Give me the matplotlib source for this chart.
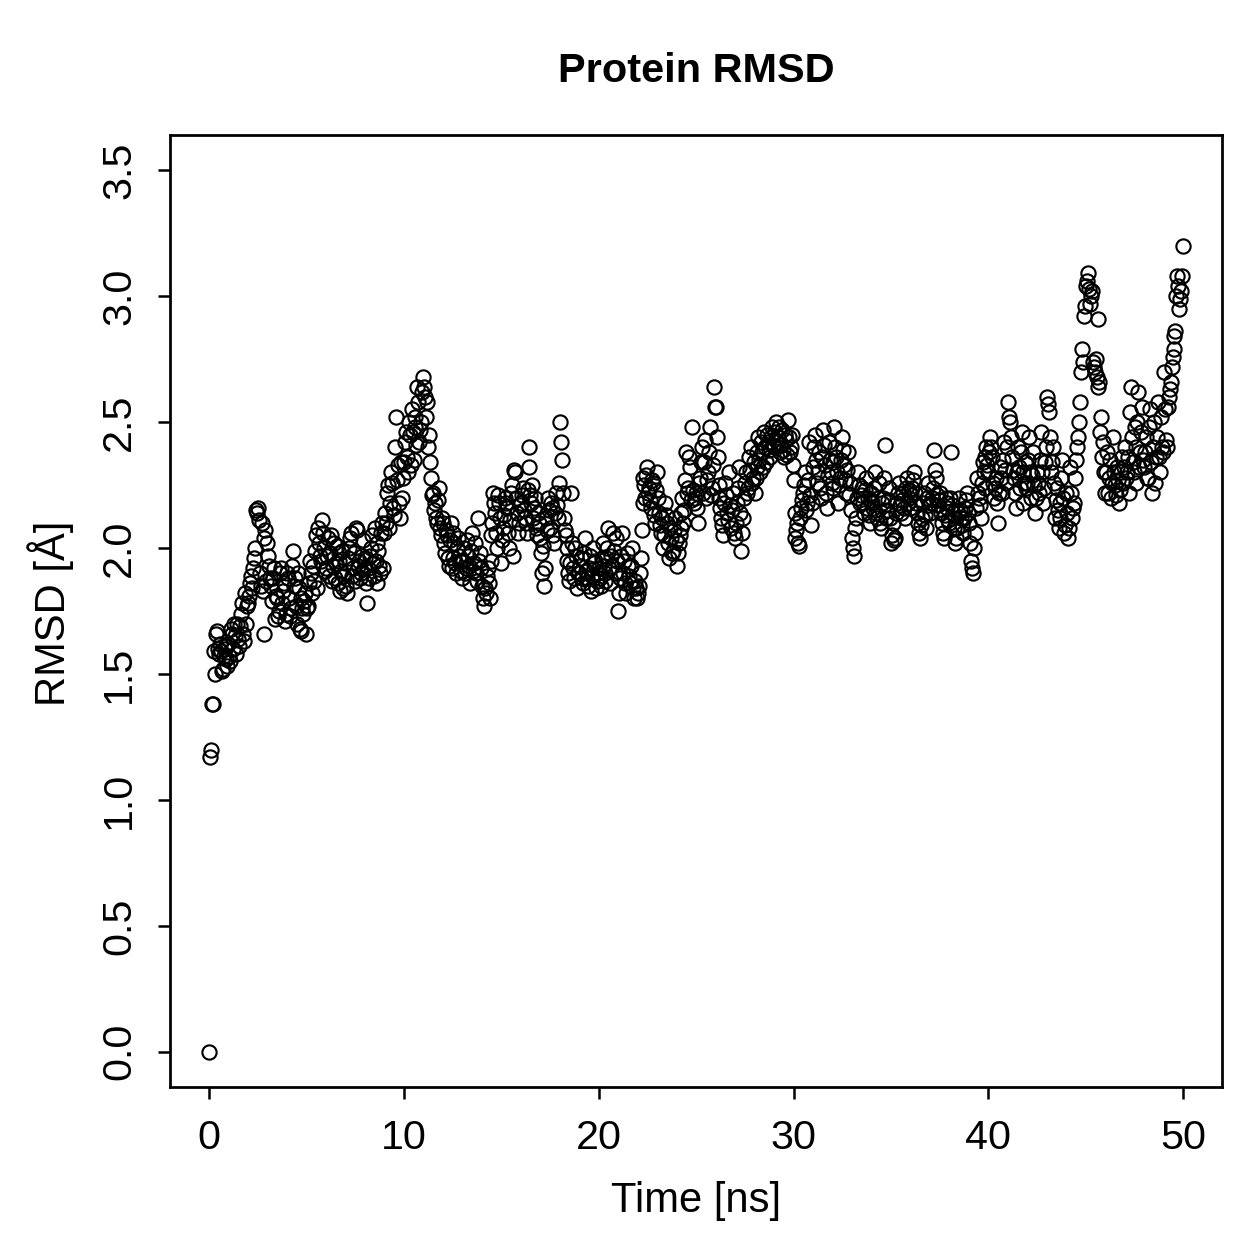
import numpy as np
import matplotlib.pyplot as plt

plt.rcParams["font.family"] = ["Liberation Sans", "DejaVu Sans"]

# frames on the whole tenths of a ns: 0.0, 0.1, ... 50.0
# (one row per nanosecond)
rmsd_main = [
    0.00, 1.20, 1.38, 1.50, 1.67, 1.58, 1.59, 1.52, 1.60, 1.56,
    1.62, 1.55, 1.66, 1.70, 1.58, 1.64, 1.69, 1.78, 1.63, 1.70,
    1.78, 1.86, 1.84, 1.96, 2.15, 2.16, 1.90, 2.10, 1.66, 2.07,
    2.02, 1.93, 1.85, 1.88, 1.72, 1.80, 1.75, 1.92, 1.83, 1.71,
    1.90, 1.80, 1.76, 1.99, 1.88, 1.70, 1.84, 1.67, 1.76, 1.79,
    1.66, 1.77, 1.95, 1.82, 1.87, 2.05, 2.08, 1.97, 2.11, 2.00,
    1.92, 2.04, 1.98, 1.87, 2.02, 1.94, 1.86, 1.98, 1.91, 1.84,
    1.94, 1.82, 2.00, 2.06, 1.92, 1.87, 2.07, 1.95, 1.90, 2.03,
    1.96, 1.78, 1.88, 2.00, 1.94, 2.08, 1.86, 1.99, 1.90, 2.10,
    2.06, 2.10, 2.25, 2.18, 2.26, 2.13, 2.52, 2.33, 2.12, 2.20,
    2.34, 2.46, 2.30, 2.45, 2.55, 2.35, 2.48, 2.64, 2.42, 2.50,
    2.68, 2.60, 2.58, 2.45, 2.28, 2.22, 2.18, 2.10, 2.24, 2.05,
    2.10, 1.98, 2.05, 1.93, 2.10, 1.96, 2.02, 1.90, 2.04, 1.95,
    1.88, 2.00, 1.92, 1.97, 1.86, 2.06, 1.94, 1.90, 2.12, 1.98,
    1.85, 1.77, 1.82, 1.92, 1.80, 2.05, 2.22, 2.14, 2.00, 2.18,
    1.94, 2.08, 2.20, 2.16, 2.00, 2.22, 1.97, 2.30, 2.14, 2.10,
    2.18, 2.24, 2.12, 2.06, 2.40, 2.21, 2.25, 2.16, 2.08, 2.14,
    2.04, 1.90, 1.85, 2.12, 2.20, 2.08, 2.16, 2.02, 2.22, 2.12,
    2.50, 2.35, 2.12, 2.05, 1.95, 1.87, 2.22, 1.92, 2.00, 1.84,
    1.90, 1.96, 1.86, 2.04, 1.88, 1.92, 1.83, 2.00, 1.95, 1.87,
    1.92, 1.85, 2.02, 1.90, 1.96, 2.08, 1.86, 1.93, 1.99, 2.04,
    1.75, 1.88, 2.06, 1.95, 1.82, 1.93, 1.86, 2.00, 1.80, 1.84,
    1.82, 1.90, 2.07, 2.28, 2.20, 2.32, 2.24, 2.16, 2.26, 2.10,
    2.30, 2.14, 2.06, 2.00, 2.18, 2.10, 1.96, 2.04, 1.99, 2.12,
    1.93, 2.02, 2.08, 2.20, 2.15, 2.38, 2.24, 2.32, 2.48, 2.18,
    2.22, 2.10, 2.28, 2.40, 2.34, 2.20, 2.30, 2.48, 2.24, 2.64,
    2.56, 2.36, 2.20, 2.12, 2.05, 2.26, 2.14, 2.30, 2.08, 2.22,
    2.04, 2.18, 2.32, 1.99, 2.12, 2.26, 2.22, 2.36, 2.40, 2.28,
    2.22, 2.32, 2.44, 2.30, 2.38, 2.46, 2.34, 2.42, 2.36, 2.48,
    2.40, 2.50, 2.44, 2.38, 2.47, 2.36, 2.43, 2.51, 2.38, 2.45,
    2.27, 2.04, 2.10, 2.01, 2.16, 2.22, 2.30, 2.18, 2.42, 2.09,
    2.32, 2.45, 2.26, 2.38, 2.20, 2.47, 2.33, 2.16, 2.42, 2.30,
    2.24, 2.48, 2.36, 2.18, 2.28, 2.44, 2.33, 2.22, 2.38, 2.26,
    2.04, 1.97, 2.12, 2.30, 2.18, 2.24, 2.14, 2.28, 2.20, 2.10,
    2.22, 2.16, 2.30, 2.12, 2.26, 2.08, 2.20, 2.41, 2.15, 2.24,
    2.02, 2.10, 2.04, 2.18, 2.26, 2.14, 2.22, 2.12, 2.28, 2.20,
    2.16, 2.24, 2.30, 2.18, 2.10, 2.04, 2.12, 2.22, 2.08, 2.26,
    2.14, 2.20, 2.39, 2.28, 2.17, 2.22, 2.10, 2.04, 2.20, 2.16,
    2.10, 2.38, 2.14, 2.02, 2.08, 2.20, 2.12, 2.06, 2.16, 2.22,
    2.10, 1.95, 1.90, 2.06, 2.28, 2.20, 2.12, 2.34, 2.24, 2.40,
    2.30, 2.44, 2.36, 2.20, 2.28, 2.10, 2.32, 2.22, 2.42, 2.26,
    2.58, 2.50, 2.36, 2.28, 2.16, 2.40, 2.24, 2.46, 2.18, 2.34,
    2.26, 2.44, 2.20, 2.38, 2.14, 2.30, 2.22, 2.46, 2.18, 2.34,
    2.60, 2.54, 2.30, 2.40, 2.12, 2.24, 2.08, 2.18, 2.35, 2.06,
    2.22, 2.04, 2.32, 2.12, 2.18, 2.35, 2.44, 2.58, 2.79, 2.92,
    3.04, 3.09, 2.97, 3.02, 2.72, 2.75, 2.91, 2.66, 2.52, 2.42,
    2.22, 2.38, 2.28, 2.20, 2.44, 2.25, 2.32, 2.18, 2.30, 2.26,
    2.40, 2.30, 2.22, 2.64, 2.34, 2.48, 2.26, 2.62, 2.38, 2.56,
    2.32, 2.44, 2.28, 2.55, 2.22, 2.50, 2.36, 2.58, 2.30, 2.40,
    2.70, 2.43, 2.56, 2.63, 2.72, 2.79, 2.86, 3.08, 2.95, 3.02,
    3.20,
]

# frames in between: 0.05, 0.15, ... 49.95
rmsd_mid = [
    1.17, 1.38, 1.59, 1.66, 1.60, 1.62, 1.51, 1.57, 1.61, 1.53,
    1.57, 1.68, 1.60, 1.65, 1.70, 1.61, 1.74, 1.66, 1.82, 1.77,
    1.81, 1.89, 1.92, 2.00, 2.14, 2.11, 1.85, 1.83, 2.04, 1.87,
    1.97, 1.88, 1.79, 1.92, 1.81, 1.73, 1.90, 1.78, 1.86, 1.74,
    1.88, 1.73, 1.93, 1.85, 1.77, 1.90, 1.68, 1.80, 1.74, 1.82,
    1.76, 1.86, 1.90, 1.93, 1.99, 1.84, 2.02, 1.95, 2.06, 1.91,
    1.97, 1.89, 2.05, 1.93, 1.88, 2.01, 1.95, 1.83, 1.99, 1.89,
    1.85, 1.96, 2.04, 1.89, 1.98, 2.08, 1.93, 1.88, 1.97, 1.92,
    1.86, 1.92, 1.97, 2.05, 1.89, 1.95, 2.02, 1.93, 2.06, 1.92,
    2.14, 2.22, 2.08, 2.30, 2.16, 2.40, 2.27, 2.18, 2.34, 2.28,
    2.42, 2.36, 2.50, 2.33, 2.46, 2.52, 2.41, 2.58, 2.47, 2.62,
    2.64, 2.52, 2.40, 2.34, 2.21, 2.15, 2.12, 2.19, 2.08, 2.12,
    2.02, 2.07, 1.96, 2.03, 1.92, 2.06, 1.94, 2.00, 1.97, 1.91,
    1.95, 1.90, 2.03, 1.93, 1.99, 1.91, 2.02, 1.87, 1.95, 1.92,
    1.80, 1.84, 1.89, 1.86, 1.95, 2.10, 2.18, 2.06, 2.21, 2.12,
    2.03, 2.13, 2.18, 2.06, 2.11, 2.25, 2.31, 2.20, 2.06, 2.17,
    2.21, 2.15, 2.10, 2.23, 2.32, 2.18, 2.12, 2.20, 2.05, 2.10,
    1.98, 2.01, 1.92, 2.07, 2.15, 2.18, 2.05, 2.14, 2.17, 2.26,
    2.42, 2.22, 2.07, 2.00, 1.90, 1.94, 2.02, 1.88, 1.97, 1.90,
    1.93, 1.88, 1.98, 1.91, 1.85, 1.97, 1.89, 1.94, 1.84, 1.90,
    1.88, 1.96, 1.93, 1.87, 2.00, 1.92, 1.97, 2.06, 1.90, 1.95,
    1.82, 1.97, 1.90, 1.86, 1.98, 1.89, 1.93, 1.84, 1.87, 1.80,
    1.85, 1.96, 2.18, 2.25, 2.29, 2.22, 2.19, 2.27, 2.13, 2.23,
    2.20, 2.09, 2.12, 2.05, 2.13, 2.02, 2.08, 1.98, 2.07, 2.03,
    1.98, 2.05, 2.14, 2.10, 2.27, 2.22, 2.36, 2.19, 2.23, 2.20,
    2.16, 2.26, 2.34, 2.22, 2.43, 2.27, 2.38, 2.21, 2.33, 2.56,
    2.44, 2.25, 2.16, 2.09, 2.18, 2.21, 2.11, 2.17, 2.15, 2.06,
    2.10, 2.24, 2.14, 2.06, 2.20, 2.30, 2.24, 2.31, 2.26, 2.34,
    2.28, 2.38, 2.35, 2.42, 2.32, 2.40, 2.45, 2.39, 2.44, 2.41,
    2.46, 2.42, 2.48, 2.41, 2.39, 2.45, 2.37, 2.44, 2.40, 2.33,
    2.14, 2.07, 2.02, 2.12, 2.19, 2.25, 2.15, 2.27, 2.21, 2.18,
    2.40, 2.35, 2.30, 2.24, 2.36, 2.41, 2.22, 2.29, 2.35, 2.26,
    2.34, 2.40, 2.30, 2.25, 2.35, 2.39, 2.27, 2.31, 2.21, 2.15,
    2.00, 2.08, 2.20, 2.25, 2.21, 2.18, 2.23, 2.16, 2.13, 2.19,
    2.18, 2.24, 2.14, 2.20, 2.10, 2.18, 2.28, 2.12, 2.19, 2.12,
    2.05, 2.03, 2.14, 2.22, 2.17, 2.19, 2.16, 2.24, 2.18, 2.23,
    2.21, 2.27, 2.22, 2.14, 2.06, 2.09, 2.18, 2.13, 2.20, 2.17,
    2.18, 2.24, 2.31, 2.21, 2.19, 2.14, 2.06, 2.13, 2.18, 2.11,
    2.20, 2.17, 2.08, 2.04, 2.14, 2.15, 2.09, 2.12, 2.19, 2.14,
    2.02, 1.92, 2.00, 2.16, 2.22, 2.17, 2.26, 2.30, 2.36, 2.33,
    2.38, 2.40, 2.26, 2.24, 2.18, 2.22, 2.28, 2.35, 2.31, 2.40,
    2.52, 2.44, 2.31, 2.22, 2.30, 2.32, 2.38, 2.30, 2.26, 2.24,
    2.35, 2.30, 2.29, 2.25, 2.20, 2.26, 2.35, 2.30, 2.24, 2.40,
    2.57, 2.44, 2.34, 2.26, 2.19, 2.15, 2.12, 2.28, 2.20, 2.09,
    2.14, 2.08, 2.22, 2.16, 2.28, 2.40, 2.50, 2.70, 2.74, 2.96,
    3.06, 3.03, 3.00, 2.74, 2.70, 2.68, 2.64, 2.46, 2.36, 2.30,
    2.30, 2.22, 2.35, 2.26, 2.30, 2.21, 2.27, 2.23, 2.36, 2.32,
    2.28, 2.36, 2.54, 2.44, 2.30, 2.40, 2.50, 2.32, 2.46, 2.35,
    2.38, 2.28, 2.48, 2.34, 2.40, 2.26, 2.44, 2.36, 2.52, 2.38,
    2.55, 2.40, 2.60, 2.66, 2.76, 2.84, 3.00, 3.04, 2.99, 3.08,
]

time_main = np.arange(len(rmsd_main)) * 0.1
time_mid = np.arange(len(rmsd_mid)) * 0.1 + 0.05

x_ticks = [0, 10, 20, 30, 40, 50]
y_ticks = [0.0, 0.5, 1.0, 1.5, 2.0, 2.5, 3.0, 3.5]

fig = plt.figure(figsize=(1259 / 180, 1259 / 180), dpi=180)
ax = fig.add_axes([0.135, 0.1366, 0.8358, 0.7562])

# merge the two sets of frames into one time series
time_ns = np.concatenate([time_main, time_mid])
rmsd = np.concatenate([rmsd_main, rmsd_mid])
order = np.argsort(time_ns)
ax.plot(time_ns[order], rmsd[order], linestyle="none", marker="o",
        markersize=5.7, markerfacecolor="none", markeredgecolor="black",
        markeredgewidth=0.85)

ax.set_xlim(-2, 52)
ax.set_ylim(-0.14, 3.64)
ax.set_xticks(x_ticks)
ax.set_xticklabels([str(t) for t in x_ticks])
ax.set_yticks(y_ticks)
ax.set_yticklabels([f"{v:.1f}" for v in y_ticks], rotation=90, va="center")
ax.tick_params(direction="out", length=4.8, width=1.0, labelsize=16.5, pad=8)
for s in ax.spines.values():
    s.set_linewidth(1.1)

fig.text(0.553, 0.944, "Protein RMSD", ha="center", va="center",
         fontsize=16.6, fontweight="bold")
fig.text(0.553, 0.046, "Time [ns]", ha="center", va="center", fontsize=16.7)
fig.text(0.040, 0.513, "RMSD [Å]", ha="center", va="center", fontsize=16.7,
         rotation=90)

fig.savefig("out.png", dpi=180)
